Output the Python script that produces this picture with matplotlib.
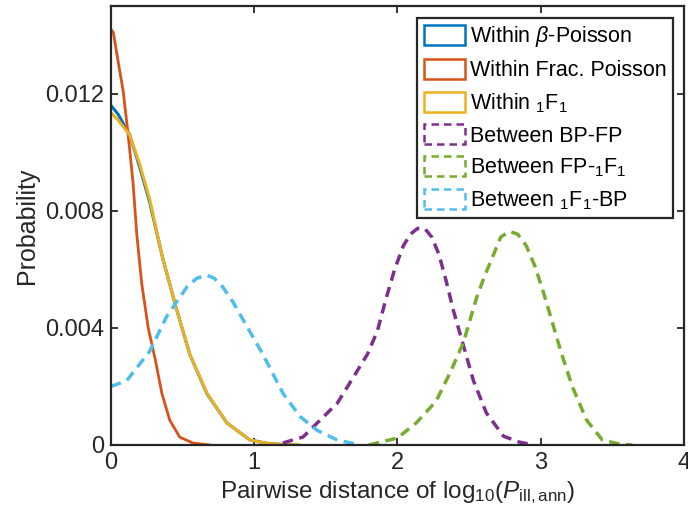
import matplotlib
matplotlib.use("Agg")
import matplotlib.pyplot as plt
from matplotlib.patches import Patch

plt.rcParams['font.family'] = ['Liberation Sans', 'DejaVu Sans']
plt.rcParams['mathtext.fontset'] = 'custom'
plt.rcParams['mathtext.rm'] = 'Liberation Sans'
plt.rcParams['mathtext.it'] = 'Liberation Sans:italic'
plt.rcParams['mathtext.sf'] = 'Liberation Sans'

# Within-model curves
bp_x = [0, 0.05, 0.13, 0.2, 0.27, 0.36, 0.46, 0.55, 0.67, 0.81, 0.97, 1.1, 1.2, 1.3]
bp_y = [0.0116, 0.0113, 0.0106, 0.0095, 0.0083, 0.0064, 0.0046, 0.0031,
        0.00175, 0.00075, 0.00017, 0.00005, 0.00002, 0.0]

fp_x = [0, 0.016, 0.05, 0.085, 0.12, 0.155, 0.18, 0.215, 0.26, 0.31, 0.355,
        0.41, 0.48, 0.57, 0.69]
fp_y = [0.0142, 0.0141, 0.0131, 0.0121, 0.0106, 0.0089, 0.0072, 0.0055, 0.0040,
        0.0029, 0.00177, 0.00085, 0.00027, 0.00007, 0.0]

hf_x = [0, 0.05, 0.13, 0.2, 0.27, 0.36, 0.46, 0.55, 0.67, 0.81, 0.97, 1.1, 1.2, 1.32]
hf_y = [0.01135, 0.0111, 0.0106, 0.0096, 0.0084, 0.0064, 0.0046, 0.0031,
        0.00177, 0.00075, 0.00017, 0.00005, 0.00002, 0.0]

# Between-model curves
bpfp_x = [1.2, 1.34, 1.46, 1.58, 1.69, 1.79, 1.86, 1.92, 1.98, 2.04, 2.09, 2.14,
          2.19, 2.24, 2.29, 2.34, 2.39, 2.46, 2.53, 2.62, 2.74, 2.85, 2.95]
bpfp_y = [0.00007, 0.00027, 0.00085, 0.00143, 0.0023, 0.0031, 0.0039, 0.0050,
          0.0060, 0.0068, 0.0072, 0.0074, 0.0074, 0.0071, 0.0065, 0.0056, 0.0046,
          0.0034, 0.0022, 0.0011, 0.0003, 0.0001, 0.0]

fphf_x = [1.8, 2.0, 2.13, 2.27, 2.37, 2.46, 2.55, 2.61, 2.67, 2.72, 2.78, 2.84,
          2.9, 2.96, 3.02, 3.08, 3.14, 3.22, 3.32, 3.43, 3.55, 3.64]
fphf_y = [0.0, 0.00024, 0.00075, 0.0015, 0.0025, 0.0035, 0.0050, 0.0058, 0.0065,
          0.0071, 0.0073, 0.0072, 0.0068, 0.0061, 0.0052, 0.0042, 0.0032, 0.0020,
          0.00085, 0.00017, 0.00003, 0.0]

hfbp_x = [0, 0.11, 0.27, 0.39, 0.53, 0.6, 0.67, 0.72, 0.78, 0.85, 0.92, 1.06,
          1.2, 1.32, 1.44, 1.58, 1.74]
hfbp_y = [0.0020, 0.0022, 0.0032, 0.0044, 0.0054, 0.0057, 0.0058, 0.0057, 0.0054,
          0.0049, 0.0043, 0.0031, 0.00177, 0.00097, 0.0005, 0.00017, 0.0]

labels = [r"Within $\beta$-Poisson", "Within Frac. Poisson",
          r"Within $\mathregular{_1F_1}$", "Between BP-FP",
          r"Between FP-$\mathregular{_1F_1}$", r"Between $\mathregular{_1F_1}$-BP"]
colors = ["#0072BD", "#D95319", "#EDB120", "#7E2F8E", "#77AC30", "#4DBEEE"]

fig = plt.figure(figsize=(6.88, 5.29), dpi=100)
ax = fig.add_axes([0.1613, 0.1588, 0.8329, 0.8299])

dash = (3.0, 1.9)
ax.plot(bp_x, bp_y, color=colors[0], lw=2.2)
ax.plot(fp_x, fp_y, color=colors[1], lw=2.0)
ax.plot(hf_x, hf_y, color=colors[2], lw=2.2)
ax.plot(bpfp_x, bpfp_y, color=colors[3], lw=2.5, ls=(0, dash))
ax.plot(fphf_x, fphf_y, color=colors[4], lw=2.5, ls=(0, dash))
ax.plot(hfbp_x, hfbp_y, color=colors[5], lw=2.5, ls=(0, dash))

ax.set_xlim(0, 4)
ax.set_ylim(0, 0.015)
ax.set_xticks([0, 1, 2, 3, 4])
ax.set_xticklabels(["0", "1", "2", "3", "4"])
ax.set_yticks([0, 0.004, 0.008, 0.012])
ax.set_yticklabels(["0", "0.004", "0.008", "0.012"])
ax.tick_params(direction='in', top=True, right=True, length=5, width=1.3,
               labelsize=17, color="#262626", labelcolor="#262626", pad=5)
for s in ax.spines.values():
    s.set_linewidth(1.6)
    s.set_color("#262626")

ax.set_xlabel(r"Pairwise distance of log$_{10}$($P_{\mathregular{ill,ann}}$)",
              fontsize=17.5, color="#262626", labelpad=4)
ax.set_ylabel("Probability", fontsize=18, color="#262626", labelpad=4)

handles = []
for i, c in enumerate(colors):
    ls = '-' if i < 3 else (0, (3, 2))
    handles.append(Patch(facecolor='none', edgecolor=c, linewidth=1.8, linestyle=ls))
leg = ax.legend(handles, labels, loc='upper right', bbox_to_anchor=(0.981, 0.973),
                fontsize=15.5, frameon=True, fancybox=False, framealpha=1,
                edgecolor='#262626', handlelength=1.9, handleheight=1.05,
                handletextpad=0.25, labelspacing=0.45, borderpad=0.3,
                borderaxespad=0)
leg.get_frame().set_linewidth(1.6)

fig.savefig("out.png", dpi=100)
